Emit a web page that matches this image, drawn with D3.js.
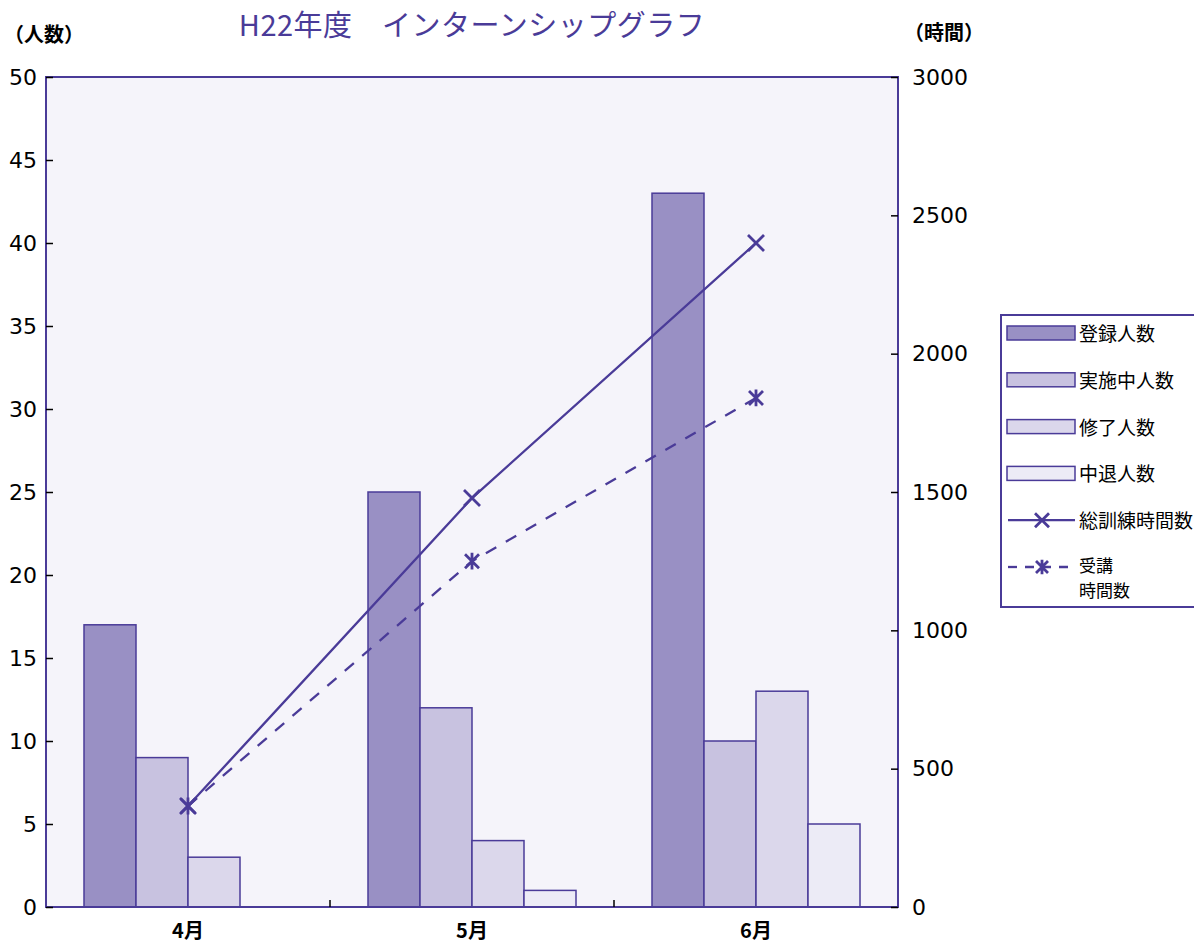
<!DOCTYPE html>
<html>
<head>
<meta charset="utf-8">
<script src="https://cdn.jsdelivr.net/npm/d3@7"></script>
<style>
  body { margin: 0; background: #fff; }
  svg { font-family: "Noto Sans CJK JP", "Noto Sans", sans-serif; }
</style>
</head>
<body>
<svg id="chart"></svg>
<script>
const WIDTH = 1194;
const HEIGHT = 948;
const LEFT = 46;
const RIGHT = 898;
const TOP = 77;
const BOTTOM = 907;

const PURPLE = '#4a3b98';

const months = ['4月', '5月', '6月'];
const barSeries = ['登録人数', '実施中人数', '修了人数', '中退人数'];
const barColors = ['#9990c4', '#c8c2e0', '#dbd7eb', '#ecebf6'];
const tourokuValues = [17, 25, 43];
const jisshiValues = [9, 12, 10];
const shuuryouValues = [3, 4, 13];
const chuutaiValues = [0, 1, 5];
const soukunrenHours = [365, 1478, 2400];
const jukouHours = [365, 1250, 1840];
const leftTicks = [0, 5, 10, 15, 20, 25, 30, 35, 40, 45, 50];
const rightTicks = [0, 500, 1000, 1500, 2000, 2500, 3000];

const barValues = [tourokuValues, jisshiValues, shuuryouValues, chuutaiValues];

const svg = d3.select('#chart').attr('width', WIDTH).attr('height', HEIGHT);

const x = d3.scaleBand().domain(months).range([LEFT, RIGHT]);
const xInner = d3.scaleBand().domain(barSeries).range([38, x.bandwidth() - 38]);
const yLeft = d3.scaleLinear().domain([0, 50]).range([BOTTOM, TOP]);
const yRight = d3.scaleLinear().domain([0, 3000]).range([BOTTOM, TOP]);

// plot background
svg.append('rect')
    .attr('x', LEFT).attr('y', TOP)
    .attr('width', RIGHT - LEFT).attr('height', BOTTOM - TOP)
    .attr('fill', '#f5f4fa');

// bars
const rows = months.map((m, i) => barSeries.map((s, j) => ({ month: m, series: s, value: barValues[j][i], color: barColors[j] })));
svg.append('g')
    .selectAll('g')
    .data(rows)
    .join('g')
    .attr('transform', d => `translate(${x(d[0].month)},0)`)
    .selectAll('rect')
    .data(d => d.filter(v => v.value > 0))
    .join('rect')
    .attr('x', d => xInner(d.series))
    .attr('width', xInner.bandwidth())
    .attr('y', d => yLeft(d.value))
    .attr('height', d => BOTTOM - yLeft(d.value))
    .attr('fill', d => d.color)
    .attr('stroke', PURPLE)
    .attr('stroke-width', 1.5);

// frame
svg.append('rect')
    .attr('x', LEFT).attr('y', TOP)
    .attr('width', RIGHT - LEFT).attr('height', BOTTOM - TOP)
    .attr('fill', 'none')
    .attr('stroke', PURPLE)
    .attr('stroke-width', 2);

// axes
const leftAxis = svg.append('g')
    .attr('transform', `translate(${LEFT},0)`)
    .call(d3.axisLeft(yLeft).tickValues(leftTicks).tickSize(-7).tickPadding(9));
const rightAxis = svg.append('g')
    .attr('transform', `translate(${RIGHT},0)`)
    .call(d3.axisRight(yRight).tickValues(rightTicks).tickFormat(d3.format('d')).tickSize(-7).tickPadding(14));
const bottomAxis = svg.append('g')
    .attr('transform', `translate(0,${BOTTOM})`)
    .call(d3.axisBottom(x).tickSize(0).tickPadding(17));

[leftAxis, rightAxis].forEach(a => {
    a.attr('font-family', null).attr('font-size', null);
    a.select('.domain').remove();
    a.selectAll('line').attr('stroke', '#000').attr('stroke-width', 1.5);
    a.selectAll('text')
        .style('font-family', '"DejaVu Sans", sans-serif')
        .style('font-size', '22px')
        .attr('fill', '#000');
});
bottomAxis.attr('font-family', null).attr('font-size', null);
bottomAxis.select('.domain').remove();
bottomAxis.selectAll('text')
    .style('font-size', '20px')
    .style('font-weight', 'bold')
    .attr('fill', '#000');

// category separator ticks
svg.append('g')
    .selectAll('line')
    .data(months.slice(1))
    .join('line')
    .attr('x1', d => x(d)).attr('x2', d => x(d))
    .attr('y1', BOTTOM).attr('y2', BOTTOM - 7)
    .attr('stroke', '#000')
    .attr('stroke-width', 1.5);

// lines
const cx = m => x(m) + x.bandwidth() / 2;
const lineGen = d3.line().x(d => cx(d.month)).y(d => yRight(d.value));
const soukunren = months.map((m, i) => ({ month: m, value: soukunrenHours[i] }));
const jukou = months.map((m, i) => ({ month: m, value: jukouHours[i] }));

svg.append('path')
    .datum(soukunren)
    .attr('d', lineGen)
    .attr('fill', 'none')
    .attr('stroke', PURPLE)
    .attr('stroke-width', 2.3);
svg.append('path')
    .datum(jukou)
    .attr('d', lineGen)
    .attr('fill', 'none')
    .attr('stroke', PURPLE)
    .attr('stroke-width', 2.3)
    .attr('stroke-dasharray', '12,11');

function crossPath(s) {
    return `M${-s},${-s}L${s},${s}M${-s},${s}L${s},${-s}`;
}
function starPath(s) {
    return crossPath(s) + `M0,${-s * 1.2}L0,${s * 1.2}`;
}

svg.append('g')
    .selectAll('path')
    .data(soukunren)
    .join('path')
    .attr('transform', d => `translate(${cx(d.month)},${yRight(d.value)})`)
    .attr('d', crossPath(8))
    .attr('stroke', PURPLE)
    .attr('stroke-width', 2.8)
    .attr('fill', 'none');
svg.append('g')
    .selectAll('path')
    .data(jukou)
    .join('path')
    .attr('transform', d => `translate(${cx(d.month)},${yRight(d.value)})`)
    .attr('d', starPath(7))
    .attr('stroke', PURPLE)
    .attr('stroke-width', 2.8)
    .attr('fill', 'none');

// titles
svg.append('text')
    .attr('x', 472).attr('y', 36)
    .attr('text-anchor', 'middle')
    .attr('font-size', 29)
    .attr('letter-spacing', 0.5)
    .attr('fill', PURPLE)
    .text('H22年度　インターンシップグラフ');
svg.append('text')
    .attr('x', 4).attr('y', 42)
    .attr('font-size', 20)
    .attr('font-weight', 'bold')
    .attr('fill', '#000')
    .text('（人数）');
svg.append('text')
    .attr('x', 904).attr('y', 40)
    .attr('font-size', 20)
    .attr('font-weight', 'bold')
    .attr('fill', '#000')
    .text('（時間）');

// legend
const legend = svg.append('g');
legend.append('rect')
    .attr('x', 1001).attr('y', 315)
    .attr('width', 210).attr('height', 292)
    .attr('fill', '#fff')
    .attr('stroke', PURPLE)
    .attr('stroke-width', 2);

const legendY = d3.scalePoint().domain(barSeries.concat(['総訓練時間数', '受講時間数'])).range([333, 567]);
barSeries.forEach((s, i) => {
    legend.append('rect')
        .attr('x', 1007).attr('y', legendY(s) - 7)
        .attr('width', 68).attr('height', 14)
        .attr('fill', barColors[i])
        .attr('stroke', PURPLE)
        .attr('stroke-width', 1.5);
    legend.append('text')
        .attr('x', 1079).attr('y', legendY(s) + 8)
        .attr('font-size', 19)
        .attr('fill', '#000')
        .text(s);
});

const ly1 = legendY('総訓練時間数');
legend.append('line')
    .attr('x1', 1008).attr('x2', 1075).attr('y1', ly1).attr('y2', ly1)
    .attr('stroke', PURPLE).attr('stroke-width', 2.3);
legend.append('path')
    .attr('transform', `translate(1042,${ly1})`)
    .attr('d', crossPath(7))
    .attr('stroke', PURPLE).attr('stroke-width', 2.8).attr('fill', 'none');
legend.append('text')
    .attr('x', 1079).attr('y', ly1 + 8)
    .attr('font-size', 19).attr('fill', '#000')
    .text('総訓練時間数');

const ly2 = legendY('受講時間数');
legend.append('line')
    .attr('x1', 1008).attr('x2', 1075).attr('y1', ly2).attr('y2', ly2)
    .attr('stroke', PURPLE).attr('stroke-width', 2.3)
    .attr('stroke-dasharray', '9,8');
legend.append('path')
    .attr('transform', `translate(1042,${ly2})`)
    .attr('d', starPath(6))
    .attr('stroke', PURPLE).attr('stroke-width', 2.8).attr('fill', 'none');
legend.append('text')
    .attr('x', 1079).attr('y', ly2 + 5)
    .attr('font-size', 17).attr('fill', '#000')
    .text('受講');
legend.append('text')
    .attr('x', 1079).attr('y', ly2 + 30)
    .attr('font-size', 17).attr('fill', '#000')
    .text('時間数');
</script>
</body>
</html>
